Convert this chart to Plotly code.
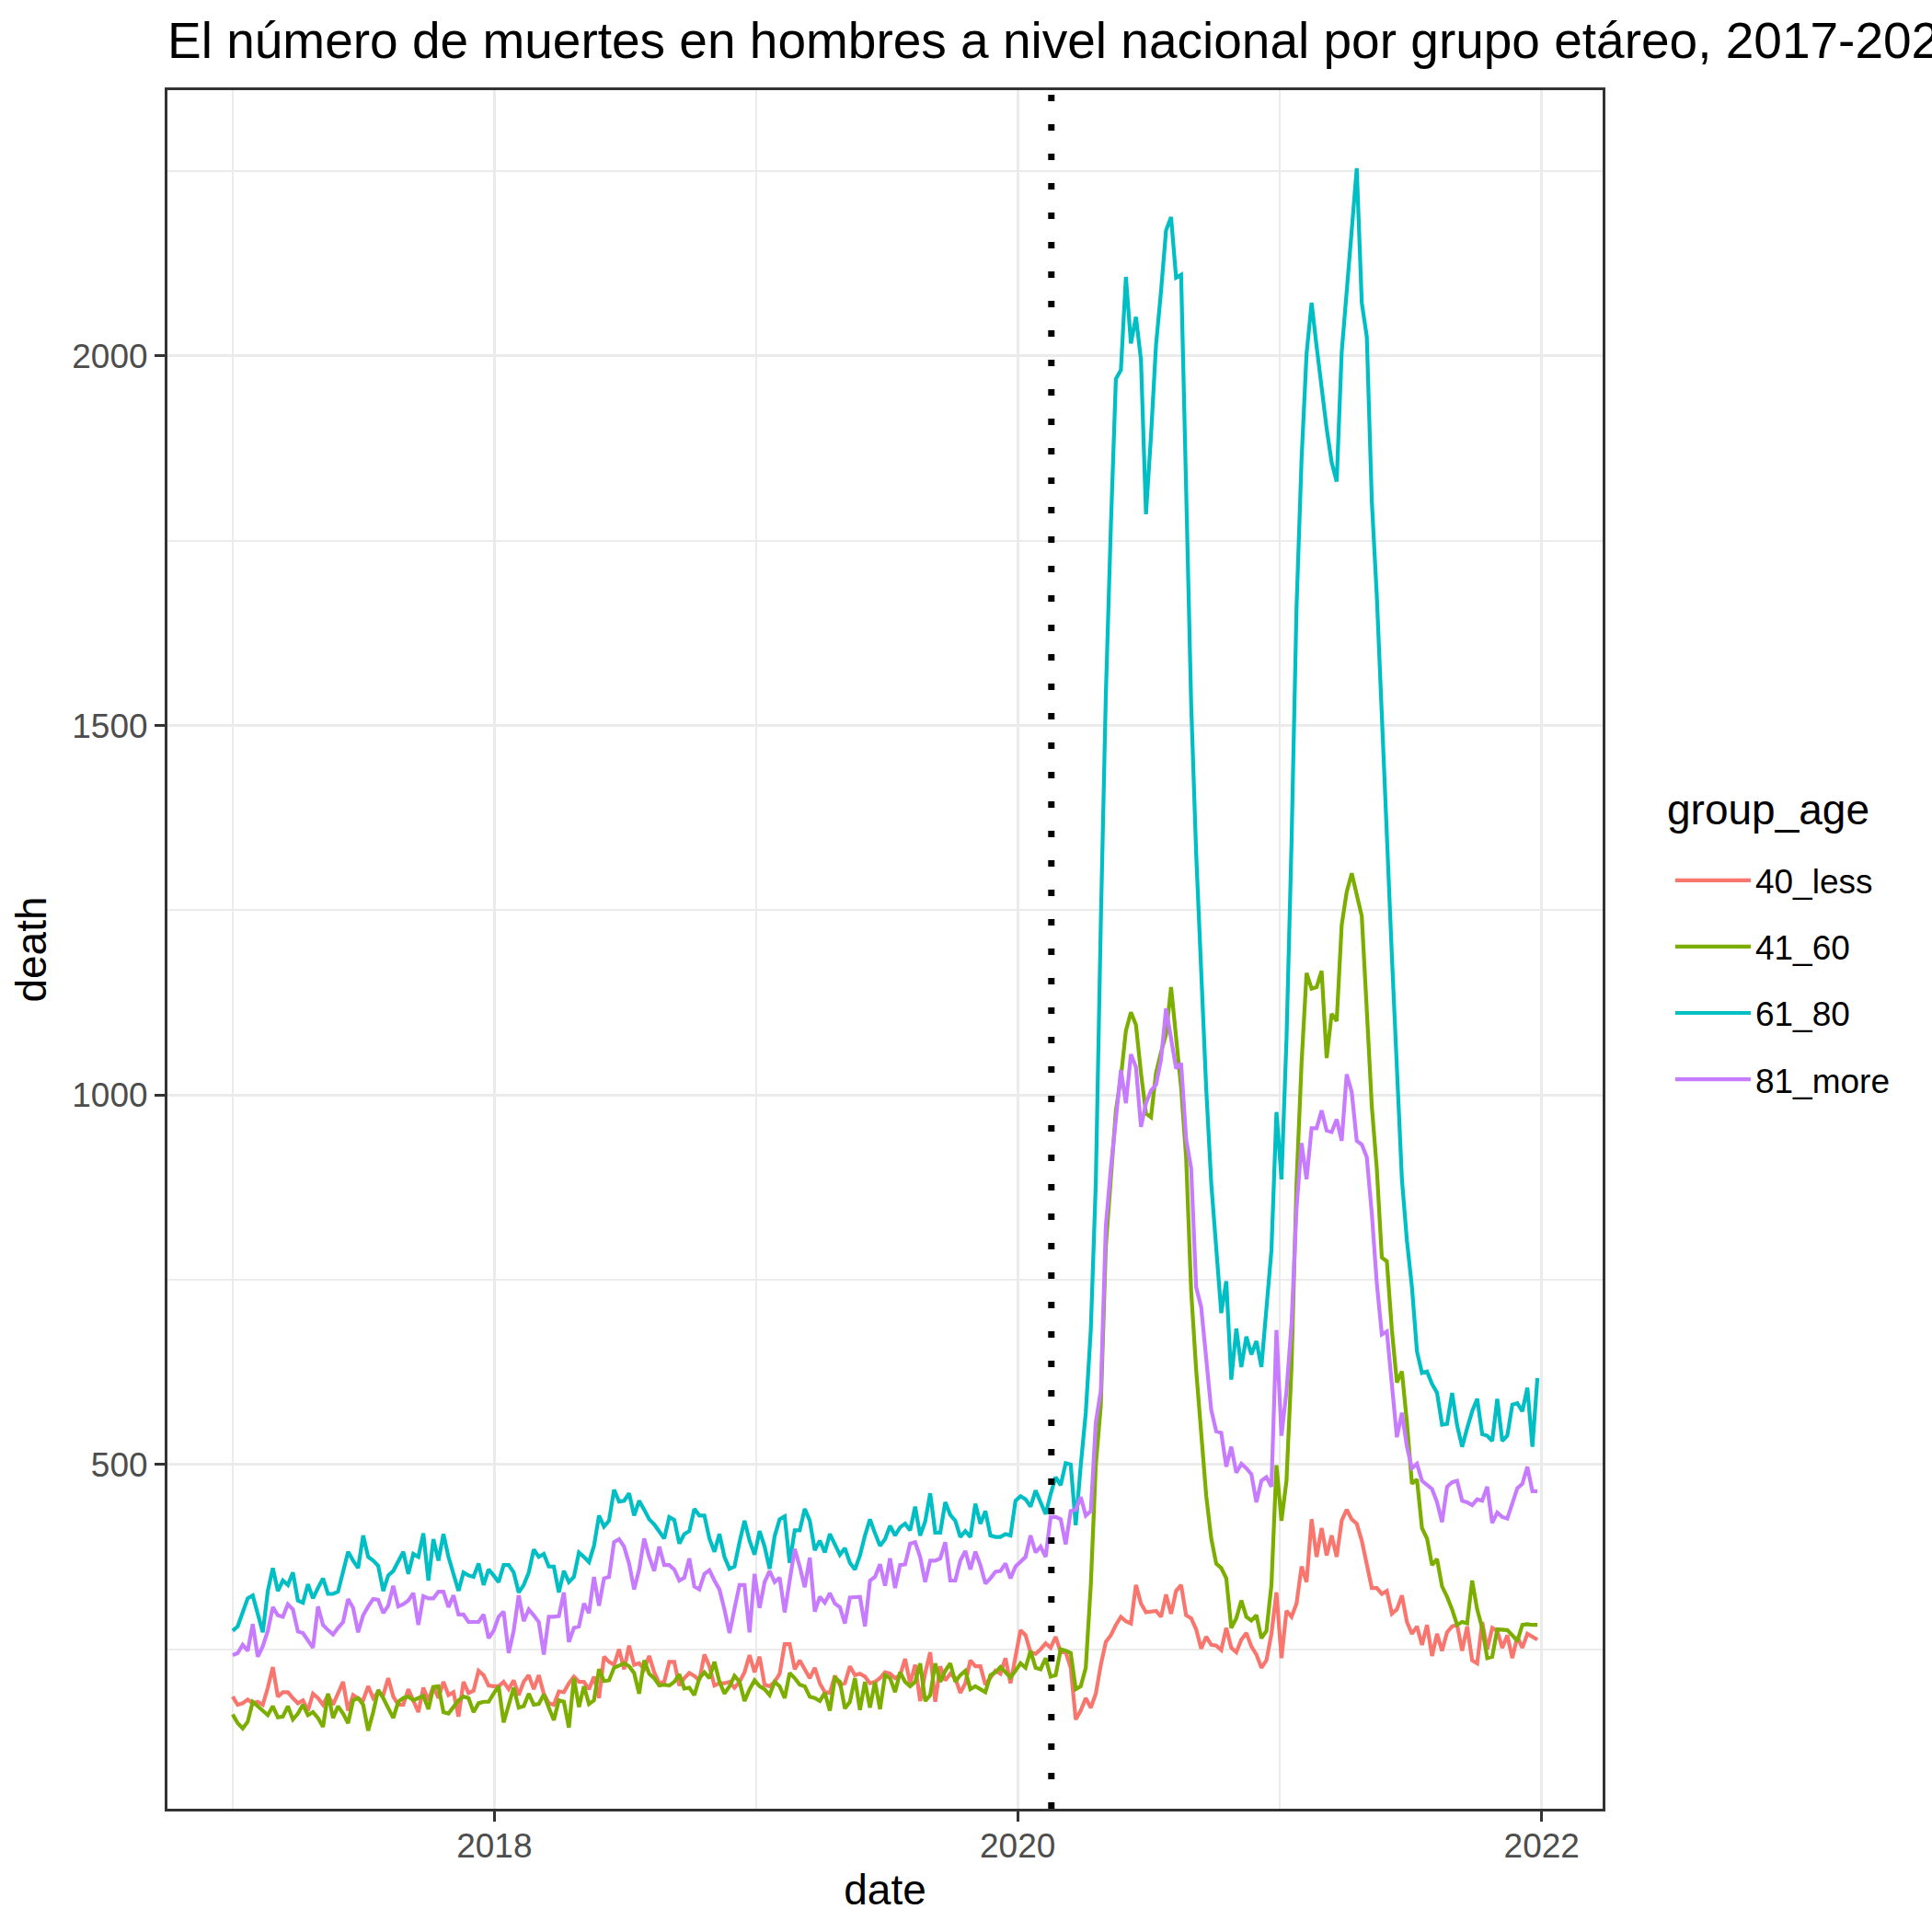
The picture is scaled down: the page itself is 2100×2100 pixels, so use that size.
import pandas as pd
import plotly.graph_objects as go

title = "El número de muertes en hombres a nivel nacional por grupo etáreo, 2017-2021"
groups = ["40_less", "41_60", "61_80", "81_more"]
colors = ["#F8766D", "#7CAE00", "#00BFC4", "#C77CFF"]

# weekly counts, 2017-01-01 .. 2021-12-26
dates = pd.date_range("2017-01-01", periods=261, freq="7D")

less_40 = [186, 175, 177, 182, 177, 179, 175, 198, 226, 186, 192, 192, 184, 177, 181, 167, 190, 184, 175, 188,
           175, 190, 206, 167, 188, 183, 181, 200, 184, 192, 188, 211, 186, 175, 175, 196, 179, 165, 198, 181,
           200, 184, 206, 188, 192, 159, 206, 191, 194, 221, 215, 201, 200, 200, 206, 196, 208, 188, 206, 215,
           196, 215, 190, 177, 175, 193, 192, 204, 213, 206, 206, 196, 213, 184, 240, 233, 229, 250, 223,
           255, 229, 231, 223, 241, 219, 204, 206, 233, 233, 201, 211, 218, 214, 208, 243, 227, 201, 204, 204,
           206, 198, 206, 219, 242, 219, 240, 202, 200, 206, 217, 257, 257, 223, 235, 223, 211, 225, 204, 192,
           191, 214, 202, 204, 227, 215, 217, 213, 204, 206, 211, 219, 217, 211, 215, 237, 204, 229, 180, 218,
           246, 179, 227, 208, 217, 211, 191, 204, 235, 227, 227, 202, 211, 221, 217, 238, 204, 238, 276,
           269, 246, 244, 250, 258, 252, 267, 246, 246, 225, 155, 167, 184, 171, 190, 229, 260, 269, 283, 294,
           288, 285, 337, 312, 300, 301, 302, 294, 324, 298, 329, 337, 296, 292, 277, 251, 267, 256, 255, 249,
           279, 252, 246, 263, 272, 254, 243, 225, 235, 271, 327, 238, 302, 294, 312, 362,
           341, 426, 375, 414, 377, 404, 375, 424, 439, 426, 420, 397, 366, 333, 333, 325, 329, 298, 304, 323,
           287, 271, 281, 256, 283, 241, 271, 248, 273, 281, 283, 248, 281, 235, 231, 287, 250, 279, 275, 252,
           269, 238, 267, 252, 271, 267, 263]

age_41_60 = [162, 150, 143, 152, 179, 173, 167, 161, 173, 158, 159, 173, 155, 163, 175, 161, 165, 157, 145, 190,
             157, 173, 163, 150, 181, 184, 175, 140, 165, 195, 184, 171, 157, 179, 184, 186, 181, 184, 187, 169,
             199, 200, 165, 163, 173, 181, 186, 184, 165, 177, 179, 179, 190, 200, 151, 175, 198, 171, 173, 190,
             175, 176, 189, 171, 154, 181, 179, 144, 211, 172, 200, 176, 181, 223, 207, 208, 225, 228, 231,
             227, 218, 190, 235, 217, 211, 201, 202, 201, 206, 216, 197, 198, 188, 211, 219, 211, 233, 206, 190,
             200, 214, 206, 180, 196, 208, 200, 196, 188, 206, 200, 184, 218, 211, 202, 200, 186, 184, 180, 191,
             167, 211, 206, 170, 179, 211, 168, 206, 171, 206, 169, 215, 211, 192, 219, 206, 200, 206, 231, 180,
             188, 231, 206, 221, 231, 206, 215, 221, 196, 200, 196, 192, 215, 219, 226, 218, 212, 221, 231,
             225, 248, 225, 223, 238, 213, 215, 250, 248, 245, 196, 200, 225, 337, 499, 580, 795, 896, 979, 1024,
             1087, 1112, 1095, 1030, 975, 970, 1030, 1058, 1082, 1146, 1075, 1010, 915, 735, 628, 549, 458, 400, 366, 360,
             346, 279, 292, 316, 294, 289, 296, 265, 275, 337, 499, 424, 478, 632, 881, 1043,
             1165, 1144, 1146, 1168, 1050, 1110, 1100, 1230, 1275, 1300, 1268, 1242, 1115, 985, 900, 780, 775, 682, 611, 626,
             557, 474, 480, 414, 400, 364, 372, 335, 321, 304, 283, 287, 285, 343, 304, 279, 238, 240, 277, 277,
             276, 269, 261, 283, 284, 283, 283]

age_61_80 = [275, 281, 300, 319, 323, 296, 273, 329, 360, 329, 343, 337, 354, 316, 313, 338, 319, 333, 346, 325,
             325, 328, 354, 382, 370, 360, 404, 375, 370, 363, 329, 350, 356, 368, 382, 352, 379, 375, 407, 343,
             399, 370, 406, 375, 350, 329, 354, 350, 348, 366, 337, 358, 350, 341, 364, 364, 354, 327, 337, 354,
             385, 375, 379, 362, 362, 327, 356, 341, 348, 381, 375, 368, 390, 431, 416, 424, 466, 450, 451,
             461, 431, 451, 439, 426, 419, 410, 400, 429, 425, 393, 406, 410, 440, 431, 431, 400, 382, 406, 375,
             359, 362, 395, 424, 397, 378, 410, 389, 359, 403, 426, 430, 367, 411, 411, 440, 424, 384, 397, 381,
             406, 391, 378, 387, 367, 358, 377, 404, 426, 407, 390, 399, 417, 404, 415, 420, 411, 443, 404, 423,
             461, 408, 408, 449, 432, 424, 402, 410, 402, 447, 420, 437, 404, 402, 402, 406, 404, 451, 457,
             453, 443, 465, 449, 433, 460, 483, 472, 502, 500, 418, 499, 570, 682, 881, 1234, 1542, 1769, 1969, 1981,
             2107, 2017, 2053, 1995, 1786, 1892, 2015, 2088, 2170, 2188, 2106, 2110, 1800, 1530, 1327, 1166, 1009, 881, 800, 705,
             748, 615, 684, 632, 673, 649, 667, 632, 711, 790, 977, 886, 1075, 1340, 1660, 1860,
             2003, 2072, 2013, 1954, 1902, 1856, 1830, 2005, 2082, 2170, 2254, 2072, 2026, 1804, 1675, 1500, 1352, 1188, 1024, 886,
             803, 740, 653, 624, 626, 609, 597, 554, 555, 597, 553, 524, 549, 572, 589, 541, 539, 532, 589, 532,
             539, 581, 583, 572, 604, 524, 617]

more_81 = [242, 245, 256, 248, 284, 240, 254, 275, 307, 296, 294, 311, 304, 274, 272, 262, 252, 308, 283, 276,
           270, 279, 287, 318, 306, 273, 296, 308, 318, 317, 299, 309, 336, 308, 311, 316, 326, 283, 322, 319,
           319, 328, 328, 307, 323, 297, 297, 287, 287, 287, 297, 265, 275, 294, 301, 245, 275, 323, 288, 304,
           296, 287, 243, 294, 294, 295, 327, 260, 279, 281, 312, 299, 348, 309, 346, 348, 395, 399, 389,
           366, 331, 358, 400, 375, 356, 389, 364, 364, 358, 343, 347, 373, 335, 331, 352, 357, 343, 331, 304,
           272, 305, 337, 337, 273, 352, 306, 341, 356, 341, 347, 300, 346, 386, 362, 334, 374, 301, 321, 313,
           326, 312, 307, 285, 320, 320, 321, 281, 343, 348, 365, 336, 373, 333, 364, 365, 393, 395, 375, 341,
           370, 370, 373, 395, 343, 343, 370, 383, 358, 382, 364, 339, 346, 355, 356, 366, 346, 362, 368,
           375, 404, 381, 389, 375, 429, 429, 426, 392, 437, 439, 456, 431, 437, 557, 600, 823, 901, 970, 1034,
           989, 1055, 1038, 957, 989, 1006, 1014, 1048, 1117, 1077, 1036, 1043, 940, 901, 740, 713, 648, 574, 545, 543,
           497, 524, 489, 501, 495, 487, 449, 478, 483, 470, 682, 539, 599, 690, 847, 935,
           886, 955, 955, 979, 952, 950, 967, 938, 1028, 1004, 938, 933, 916, 840, 745, 676, 680, 603, 537, 570,
           524, 495, 501, 478, 472, 467, 449, 422, 470, 476, 478, 451, 449, 445, 453, 451, 470, 421, 435, 429,
           427, 449, 468, 474, 497, 464, 464]

series = [less_40, age_41_60, age_61_80, more_81]
for s in series:
    assert len(s) == len(dates), len(s)

cutoff = "2020-02-17"
x_ticks = ["2018-01-01", "2020-01-01", "2022-01-01"]
x_labels = ["2018", "2020", "2022"]
x_minor = ["2017-01-01", "2019-01-01", "2021-01-01"]
y_ticks = [500, 1000, 1500, 2000]
y_minor = [250, 750, 1250, 1750, 2250]

font = "Liberation Sans, Arial, sans-serif"
grid = "#EBEBEB"
ink = "#333333"

# ggplot style 5% expansion
all_vals = [v for s in series for v in s]
lo, hi = min(all_vals), max(all_vals)
y_range = [lo - 0.05 * (hi - lo), hi + 0.05 * (hi - lo)]
span = dates[-1] - dates[0]
x_range = [dates[0] - span * 0.05, dates[-1] + span * 0.05]

fig = go.Figure()
for name, vals, col in zip(groups, series, colors):
    fig.add_trace(go.Scatter(x=dates, y=vals, name=name, mode="lines", legendgroup=name,
                             line=dict(color=col, width=4.2)))

fig.add_shape(type="line", x0=cutoff, x1=cutoff, xref="x", y0=0, y1=1, yref="paper",
              line=dict(color="black", width=7, dash="7px,25px"), layer="above")

axis_common = dict(showline=True, linecolor=ink, linewidth=3, mirror=True,
                   ticks="outside", ticklen=11, tickwidth=3, tickcolor=ink,
                   tickfont=dict(family=font, size=37, color="#4D4D4D"),
                   showgrid=True, gridcolor=grid, gridwidth=3, zeroline=False)

fig.update_xaxes(type="date", range=x_range, tickvals=x_ticks, ticktext=x_labels,
                 ticklabelstandoff=-5,
                 minor=dict(tickvals=x_minor, showgrid=True, gridcolor=grid, gridwidth=1.5, ticks=""),
                 title=dict(text="date", font=dict(family=font, size=46, color="black"), standoff=12),
                 **axis_common)
fig.update_yaxes(range=y_range, tickvals=y_ticks,
                 minor=dict(tickvals=y_minor, showgrid=True, gridcolor=grid, gridwidth=1.5, ticks=""),
                 title=dict(text="death", font=dict(family=font, size=46, color="black"), standoff=14),
                 **axis_common)

# legend title drawn as its own text so the gap to the keys matches ggplot
fig.add_annotation(text="group_age", x=1.0436, y=0.5814, xref="paper", yref="paper",
                   xanchor="left", yanchor="middle", showarrow=False,
                   font=dict(family=font, size=46, color="black"))

fig.update_layout(
    width=2100, height=2100,
    margin=dict(l=182, r=358, t=98, b=134, autoexpand=False),
    plot_bgcolor="white", paper_bgcolor="white",
    font=dict(family=font, color="black"),
    title=dict(text=title, x=0, xref="paper", xanchor="left",
               y=1 - 44 / 2100, yref="container", yanchor="middle",
               font=dict(family=font, size=55, color="black")),
    legend=dict(x=1.0474, y=0.5566, xanchor="left", yanchor="top",
                font=dict(family=font, size=37, color="black"),
                tracegroupgap=21, itemwidth=82, bgcolor="rgba(0,0,0,0)"),
)

fig.write_html("out.html", config={"displayModeBar": False},
               post_script="document.body.style.margin = '0px';")
